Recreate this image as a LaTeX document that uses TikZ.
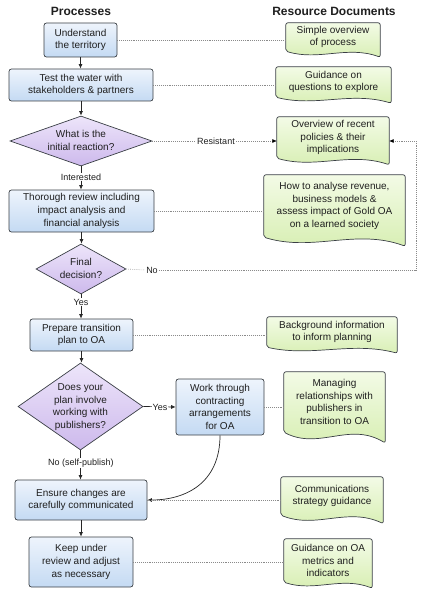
\documentclass[tikz,border=0pt]{standalone}
\usepackage{fontspec}
\setmainfont{Liberation Sans}
\usetikzlibrary{arrows.meta,shapes.geometric,calc,backgrounds}
\definecolor{procTop}{HTML}{EEF4FC}
\definecolor{procBot}{HTML}{C4DAF3}
\definecolor{diaTop}{HTML}{EDE5FA}
\definecolor{diaBot}{HTML}{CDB9EC}
\definecolor{docTop}{HTML}{F3FBE6}
\definecolor{docBot}{HTML}{D6EEB0}
\definecolor{edge}{HTML}{3A3F45}
\definecolor{dotc}{HTML}{8A8A8A}
\newcommand\zbox[1]{\makebox[0pt]{\raisebox{-2.8pt}[0pt][0pt]{\begin{tabular}{@{}c@{}}#1\end{tabular}}}}
\newcommand\docshape[2][1]{%
  \begin{scope}[on background layer]
  \path[docsh] let \p1=(#2.south west), \p2=(#2.north east), \n1={\x2-\x1} in
    (\x2,{\y1-6pt*#1}) .. controls ({\x1+0.65*\n1},{\y1+6pt*#1}) and ({\x1+0.35*\n1},{\y1-10pt*#1}) .. (\x1,\y1)
    -- (\x1,\y2) -- (\x2,\y2) -- cycle;
  \end{scope}}
\begin{document}
\begin{tikzpicture}[x=1pt,y=-1pt,
  every node/.style={font=\fontsize{10}{12.6}\selectfont, text=black!88},
  hdr/.style={font=\fontsize{12}{14}\selectfont\bfseries},
  proc/.style={draw=edge, line width=0.7pt, rounded corners=2.5pt, top color=procTop, bottom color=procBot, align=center, inner sep=1pt},
  dia/.style={diamond, draw=edge, line width=0.7pt, top color=diaTop, bottom color=diaBot, inner sep=0pt},
  docn/.style={inner sep=0pt, align=center},
  docsh/.style={draw=edge, line width=0.7pt, rounded corners=2pt, top color=docTop, bottom color=docBot},
  arr/.style={draw=black!85, line width=0.7pt, -{Latex[length=4.5pt,width=4pt]}},
  plain/.style={draw=black!85, line width=0.7pt},
  dotline/.style={draw=dotc, line width=0.6pt, dash pattern=on 0.6pt off 1.3pt},
  dotarr/.style={dotline, -{Latex[length=4.5pt,width=4pt,black]}},
  lbl/.style={font=\fontsize{9}{11}\selectfont, inner sep=1pt}
]
\useasboundingbox (0,0) rectangle (425,596);

% headers
\node[hdr] (h1) at (81,11) {Processes};
\node[hdr] (h2) at (334,11) {Resource Documents};

% processes
\node[proc, minimum width=73, minimum height=34] (p1) at (80.5,40) {Understand\\the territory};
\node[proc, minimum width=144, minimum height=32] (p2) at (81,85) {Test the water with\\stakeholders \& partners};
\node[dia, minimum width=142, minimum height=50] (d1) at (81,141) {\zbox{What is the\\initial reaction?}};
\node[proc, minimum width=145, minimum height=42] (p3) at (81.5,211) {Thorough review including\\impact analysis and\\financial analysis};
\node[dia, minimum width=90, minimum height=50] (d2) at (81,269) {\zbox{Final\\decision?}};
\node[proc, minimum width=103, minimum height=32] (p4) at (81.5,335) {Prepare transition\\plan to OA};
\node[dia, minimum width=125, minimum height=87] (d3) at (80.5,406.5) {\zbox{Does your\\plan involve\\working with\\publishers?}};
\node[proc, minimum width=88, minimum height=56] (p5) at (220,407) {Work through\\contracting\\arrangements\\for OA};
\node[proc, minimum width=132, minimum height=40] (p6) at (81,500) {Ensure changes are\\carefully communicated};
\node[proc, minimum width=104, minimum height=50] (p7) at (81,562) {Keep under\\review and adjust\\as necessary};

% documents
\node[docn, minimum width=94, minimum height=28] (da) at (333,37) {Simple overview\\of process};
\node[docn, minimum width=115, minimum height=30] (db) at (333.5,82) {Guidance on\\questions to explore};
\node[docn, minimum width=112, minimum height=41] (dc) at (333,137.5) {Overview of recent\\policies \& their\\implications};
\node[docn, minimum width=141, minimum height=62] (dd) at (334.5,206) {How to analyse revenue,\\business models \&\\assess impact of Gold OA\\on a learned society};
\node[docn, minimum width=130, minimum height=30] (de) at (332,332) {Background information\\to inform planning};
\node[docn, minimum width=101, minimum height=60] (df) at (334.5,402) {Managing\\relationships with\\publishers in\\transition to OA};
\node[docn, minimum width=102, minimum height=38] (dg) at (332,496) {Communications\\strategy guidance};
\node[docn, minimum width=88, minimum height=43] (dh) at (328,560.5) {Guidance on OA\\metrics and\\indicators};
\docshape{da}
\docshape{db}
\docshape[1.1]{dc}
\docshape[1.5]{dd}
\docshape[1]{de}
\docshape[1.8]{df}
\docshape[1.4]{dg}
\docshape[1]{dh}

% process flow
\draw[arr] (p1.south) -- (p1.south |- p2.north);
\draw[arr] (p2.south) -- (p2.south |- d1.north);
\draw[arr] (d1.south) -- (d1.south |- p3.north);
\draw[arr] (p3.south) -- (p3.south |- d2.north);
\draw[arr] (d2.south) -- (d2.south |- p4.north);
\draw[arr] (p4.south) -- (p4.south |- d3.north);
\draw[arr] (d3.east) -- (p5.west);
\draw[arr] (d3.south) -- (d3.south |- p6.north);
\draw[arr] (p6.south) -- (p6.south |- p7.north);
\draw[arr] (p5.south) .. controls +(0,48) and +(38,0) .. (p6.east);

\node[lbl, fill=white] (lint) at (81,177) {Interested};
\node[lbl, fill=white] (lyes1) at (81,302) {Yes};
\node[lbl, fill=white] (lyes2) at (160,407) {Yes};
\node[lbl, fill=white] (lnop) at (81,463) {No (self-publish)};

% dotted links
\node[lbl] (lres) at (216,141) {Resistant};
\node[lbl] (lno) at (152,270) {No};
\coordinate (nr) at (416,270);
\draw[dotline] (d1.east) -- (lres.west);
\draw[dotarr] (lres.east) -- (lres.east -| dc.west);
\draw[dotline] (d2.east) -- (lno.west);
\draw[dotarr] (lno.east) -- (nr) |- (d1.east -| dc.east);

\draw[dotline] (p1.east) -- (p1.east -| da.west);
\draw[dotline] (p2.east) -- (p2.east -| db.west);
\draw[dotline] (p3.east) -- (p3.east -| dd.west);
\draw[dotline] (p4.east) -- (p4.east -| de.west);
\draw[dotline] (p5.east) -- (p5.east -| df.west);
\draw[dotline] (p6.east) -- (p6.east -| dg.west);
\draw[dotline] (p7.east) -- (p7.east -| dh.west);
\end{tikzpicture}
\end{document}
